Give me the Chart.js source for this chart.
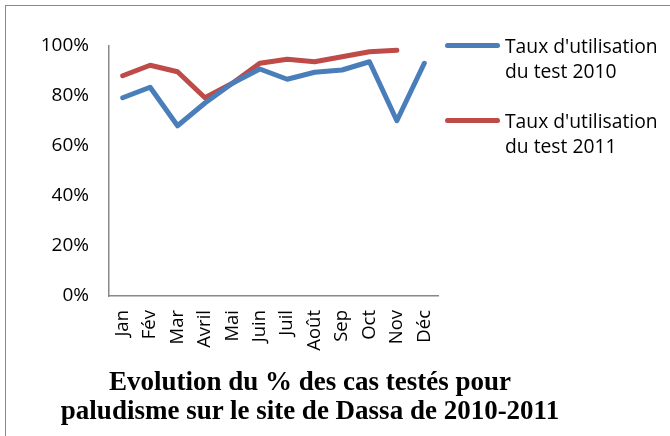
<!DOCTYPE html>
<html>
<head>
<meta charset="utf-8">
<script src="https://cdn.jsdelivr.net/npm/chart.js@4"></script>
<style>
  html, body { margin: 0; padding: 0; background: #fff; }
  #wrap { position: relative; width: 670px; height: 436px; overflow: hidden; }
  #frame { position: absolute; left: 5px; top: 5px; width: 700px; height: 460px; border-top: 1px solid #888; border-left: 1px solid #888; }
  #c { position: absolute; left: 0; top: 0; }
  .leg { position: absolute; left: 445px; font-family: "Open Sans", sans-serif; font-size: 19.3px; line-height: 25px; color: #000; }
  .leg .sw { position: absolute; left: 0; top: 10px; width: 55px; height: 5px; border-radius: 3px; }
  .leg .tx { position: absolute; left: 60px; top: 0; white-space: nowrap; }
  #title { position: absolute; left: 0; width: 620px; top: 367px; text-align: center; font-family: "Liberation Serif", serif; font-weight: bold; font-size: 27px; line-height: 29px; color: #000; white-space: nowrap; }
</style>
</head>
<body>
<div id="wrap">
  <div id="frame"></div>
  <canvas id="c" width="670" height="436"></canvas>
  <div class="leg" style="top:33px"><div class="sw" style="background:#4A7EBB"></div><div class="tx" id="leg1"></div></div>
  <div class="leg" style="top:108px"><div class="sw" style="background:#BE4B48"></div><div class="tx" id="leg2"></div></div>
  <div id="title"></div>
</div>
<script>
const months = ["Jan", "Fév", "Mar", "Avril", "Mai", "Juin", "Juil", "Août", "Sep", "Oct", "Nov", "Déc"];
const taux2010 = [79.3, 83.5, 68.1, 77.2, 85.1, 90.8, 86.7, 89.5, 90.4, 93.7, 70.1, 93.1];
const taux2011 = [88.1, 92.3, 89.7, 79.3, 85.1, 93.1, 94.7, 93.7, 95.7, 97.7, 98.3, null];
const yTicks = [0, 20, 40, 60, 80, 100];
const seriesNames = [["Taux d'utilisation", "du test 2010"], ["Taux d'utilisation", "du test 2011"]];
const titleLines = ["Evolution du % des cas testés pour", "paludisme sur le site de Dassa de 2010-2011"];

document.getElementById('leg1').innerHTML = seriesNames[0].join('<br>');
document.getElementById('leg2').innerHTML = seriesNames[1].join('<br>');
document.getElementById('title').innerHTML = titleLines.join('<br>');

new Chart(document.getElementById('c'), {
  type: 'line',
  data: {
    labels: months,
    datasets: [
      { label: seriesNames[0].join(' '), data: taux2010, borderColor: '#4A7EBB', borderWidth: 5, pointRadius: 0, tension: 0, borderCapStyle: 'round', borderJoinStyle: 'round' },
      { label: seriesNames[1].join(' '), data: taux2011, borderColor: '#BE4B48', borderWidth: 5, pointRadius: 0, tension: 0, borderCapStyle: 'round', borderJoinStyle: 'round' }
    ]
  },
  options: {
    responsive: false,
    animation: false,
    layout: { padding: { top: 46, right: 232, left: 0, bottom: 69 } },
    plugins: {
      legend: { display: false },
      tooltip: { enabled: false },
      title: { display: false }
    },
    scales: {
      x: {
        offset: true,
        grid: { display: false },
        border: { display: true, color: '#888', width: 1.5 },
        ticks: { color: '#000', minRotation: 90, maxRotation: 90, autoSkip: false, padding: 6, font: { family: '"Open Sans", sans-serif', size: 18.5 } },
        afterFit: (s) => { s.height = 71; }
      },
      y: {
        min: 0, max: 100,
        grid: { display: false },
        border: { display: true, color: '#888', width: 1.5 },
        afterBuildTicks: (s) => { s.ticks = yTicks.map(v => ({ value: v })); },
        ticks: { color: '#000', padding: 12, callback: (v) => v + '%', font: { family: '"Open Sans", sans-serif', size: 19 } },
        afterFit: (s) => { s.width = 109; }
      }
    }
  }
});
</script>
</body>
</html>
